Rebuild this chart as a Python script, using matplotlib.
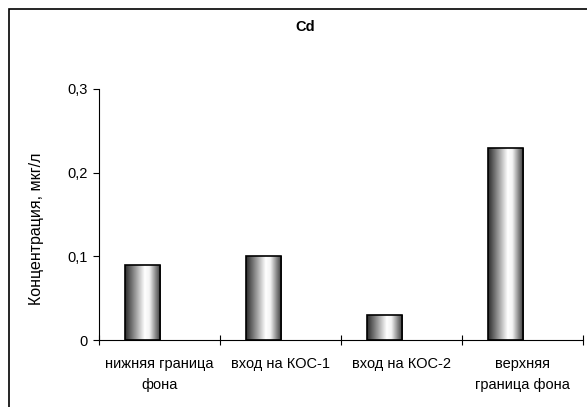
import matplotlib
matplotlib.use("Agg")
import matplotlib.pyplot as plt
import numpy as np
from matplotlib.colors import LinearSegmentedColormap
from matplotlib.patches import Rectangle

categories = ["нижняя граница\nфона", "вход на КОС-1", "вход на КОС-2", "верхняя\nграница фона"]
values = [0.09, 0.10, 0.03, 0.23]
yticks = [0, 0.1, 0.2, 0.3]
ytick_labels = ["0", "0,1", "0,2", "0,3"]

plt.rcParams['font.family'] = ['Liberation Sans', 'DejaVu Sans']

fig = plt.figure(figsize=(5.87, 4.07), dpi=100)
fig.patch.set_facecolor('white')
ax = fig.add_axes([99/587, 1-340/407, (583-99)/587, (340-89)/407])

x = np.arange(len(categories))
width = 0.29
offset = -0.14
bars = ax.bar(x + offset, values, width=width, facecolor='none', edgecolor='black', linewidth=1.2, zorder=3)

cmap = LinearSegmentedColormap.from_list('cyl', [
    (0.0, '#2a2a2a'), (0.25, '#8a8a8a'), (0.55, '#ffffff'), (0.68, '#f4f4f4'),
    (0.85, '#8a8a8a'), (1.0, '#333333')])
grad = np.linspace(0, 1, 256).reshape(1, -1)
for b in bars:
    x0, y0 = b.get_x(), b.get_y()
    w, h = b.get_width(), b.get_height()
    im = ax.imshow(grad, cmap=cmap, extent=[x0, x0 + w, y0, y0 + h],
                   aspect='auto', zorder=2, interpolation='bilinear')
    im.set_clip_path(b)

ax.set_xlim(-0.5, len(categories) - 0.5)
ax.set_ylim(0, 0.3)
ax.set_yticks(yticks)
ax.set_yticklabels(ytick_labels, fontsize=10.5)
ax.set_xticks(x)
ax.set_xticklabels(categories, fontsize=10.5, linespacing=1.6)
ax.tick_params(axis='x', which='major', length=0, pad=12.5)
ax.set_xticks(np.arange(len(categories) + 1) - 0.5, minor=True)
ax.tick_params(axis='x', which='minor', direction='inout', length=7, width=0.8)
ax.tick_params(axis='y', direction='out', length=4, width=0.8, pad=4)
for s in ['top', 'right']:
    ax.spines[s].set_visible(False)
for s in ['left', 'bottom']:
    ax.spines[s].set_linewidth(0.8)

ax.set_ylabel("Концентрация, мкг/л", fontsize=11.5)
ax.yaxis.set_label_coords((44 - 99) / 484, (340 - 229) / 251)
fig.text(305/587, 1-27/407, "Cd", ha='center', va='center', fontsize=10.5, fontweight='bold')

fig.patches.append(Rectangle((9/587, -0.05), 1.2, 1-9/407+0.05, transform=fig.transFigure,
                             fill=False, edgecolor='black', linewidth=1.2))

fig.savefig("out.png", dpi=100)
